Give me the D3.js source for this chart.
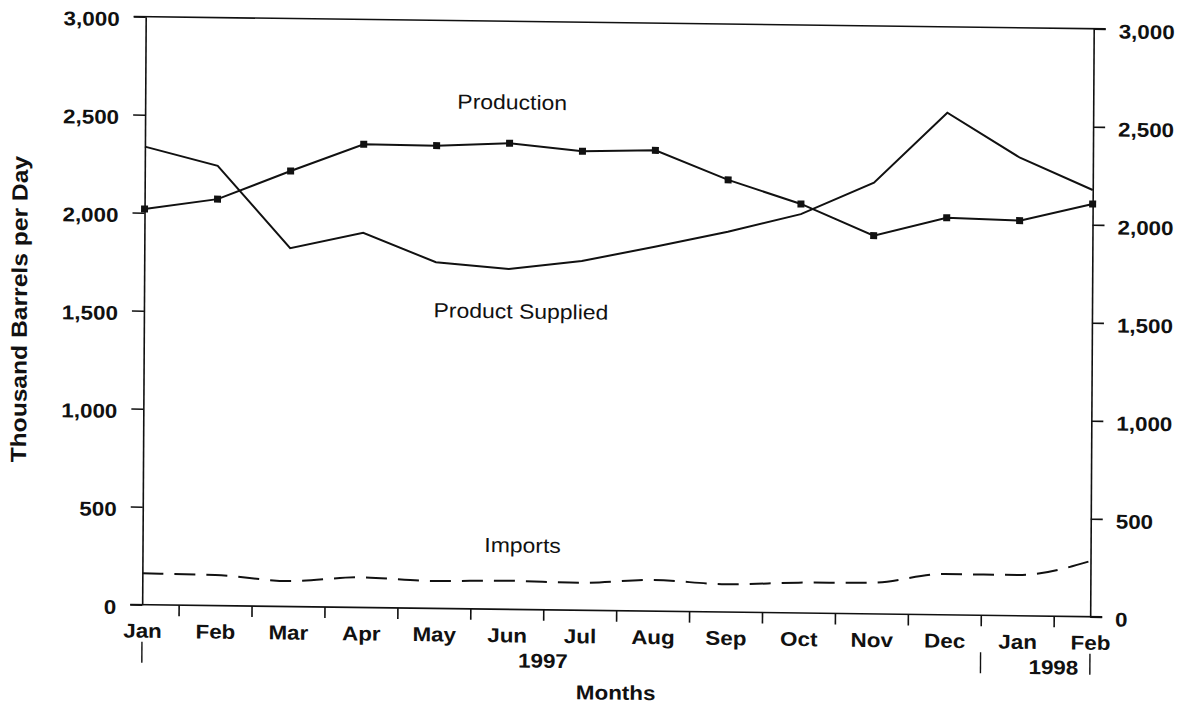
<!DOCTYPE html>
<html>
<head>
<meta charset="utf-8">
<script src="https://cdn.jsdelivr.net/npm/d3@7"></script>
<style>
  body { margin: 0; background: #fff; }
  text { font-family: "Liberation Sans", Arial, sans-serif; fill: #111; }
  .tick-label, .month, .year, .axis-title { font-weight: bold; font-size: 20px; }
  .y-title { font-weight: bold; font-size: 22px; }
  .series-label { font-size: 20.5px; }
</style>
</head>
<body>
<svg id="chart" width="1189" height="706"></svg>
<script>
// data (thousand barrels per day), Jan 1997 - Feb 1998
var months = ["Jan", "Feb", "Mar", "Apr", "May", "Jun", "Jul", "Aug", "Sep", "Oct", "Nov", "Dec", "Jan", "Feb"];
var production = [2019, 2074, 2222, 2363, 2361, 2378, 2342, 2351, 2205, 2087, 1930, 2026, 2016, 2106];
var productSupplied = [2337, 2244, 1828, 1912, 1766, 1736, 1782, 1859, 1941, 2035, 2200, 2562, 2337, 2177];
var imports = [160, 156, 130, 154, 140, 146, 140, 159, 142, 155, 159, 208, 208, 284];
var yTicks = [0, 500, 1000, 1500, 2000, 2500, 3000];
var years = [
  { label: "1997", first: 0, last: 11 },
  { label: "1998", first: 12, last: 13 }
];

// layout
var W = 948, H = 588,
  sx = 1.12, // the scanned lettering is a bit wider than Arial
  seriesLabels = [
    { text: "Production", x: 367, y: 88 },
    { text: "Product Supplied", x: 377, y: 297 },
    { text: "Imports", x: 380, y: 531 }
  ];

var svg = d3.select("#chart");
// the original is a slightly skewed scan, so the whole plot gets a small shear
var g = svg.append("g")
  .attr("transform", "matrix(1,0.01266,-0.006,1,145.7,16.7)");

var x = d3.scaleLinear().domain([0, months.length - 1]).range([0, W]);
var y = d3.scaleLinear().domain([0, 3000]).range([H, 0]);

function stretchText(sel, anchor, dy) {
  sel.each(function() {
    var t = d3.select(this);
    var tx = +t.attr("x") || 0, ty = +t.attr("y") || 0;
    t.attr("x", null).attr("y", null)
      .attr("transform", "translate(" + tx + "," + ty + ") scale(" + sx + ",1)")
      .attr("text-anchor", anchor)
      .attr("dy", dy);
  });
}

function styleAxis(sel) {
  sel.attr("font-family", null).attr("font-size", null);
  sel.selectAll("path, line").attr("stroke", "#111").attr("stroke-width", 1.6);
}

// left and right value axes
var gl = g.append("g")
  .call(d3.axisLeft(y).tickValues(yTicks).tickSize(12).tickSizeOuter(0)
    .tickPadding(14).tickFormat(d3.format(",")))
  .call(styleAxis);
gl.selectAll(".tick text").attr("class", "tick-label").call(stretchText, "end", "0.45em");

var gr = g.append("g").attr("transform", "translate(" + W + ",0)")
  .call(d3.axisRight(y).tickValues(yTicks).tickSize(12).tickSizeOuter(0)
    .tickPadding(13).tickFormat(d3.format(",")))
  .call(styleAxis);
gr.selectAll(".tick text").attr("class", "tick-label").call(stretchText, "start", "0.45em");

// top frame and baseline
g.selectAll("line.frame").data([0, H]).join("line")
  .attr("class", "frame")
  .attr("x1", -12).attr("x2", W + 12)
  .attr("y1", function(d) { return d; }).attr("y2", function(d) { return d; })
  .attr("stroke", "#111").attr("stroke-width", 1.6);

// month ticks sit between the months
var gb = g.append("g").attr("transform", "translate(0," + H + ")")
  .call(d3.axisBottom(x).tickValues(d3.range(0.5, months.length - 1, 1)).tickSize(11).tickFormat(""))
  .call(styleAxis);
gb.select(".domain").remove();

var gm = g.append("g").attr("transform", "translate(0," + H + ")")
  .call(d3.axisBottom(x).tickValues(d3.range(months.length)).tickSize(0).tickPadding(33)
    .tickFormat(function(i) { return months[i]; }))
  .call(styleAxis);
gm.select(".domain").remove();
gm.selectAll(".tick text").attr("class", "month").call(stretchText, "middle", "0");

// year brackets under the month labels
var bounds = [x(years[0].first)].concat(years.map(function(d, i) {
  return i < years.length - 1 ? (x(d.last) + x(years[i + 1].first)) / 2 : x(d.last);
}));
g.selectAll("line.year-sep").data(bounds).join("line")
  .attr("class", "year-sep")
  .attr("x1", function(d) { return d; }).attr("x2", function(d) { return d; })
  .attr("y1", H + 37).attr("y2", H + 58)
  .attr("stroke", "#111").attr("stroke-width", 1.4);

g.selectAll("text.year").data(years).join("text")
  .attr("class", "year")
  .attr("x", function(d) { return (x(d.first) + x(d.last)) / 2; })
  .attr("y", H + 58)
  .text(function(d) { return d.label; })
  .call(stretchText, "middle", "0");

// axis titles
g.append("text").attr("class", "axis-title")
  .attr("x", W / 2).attr("y", H + 89)
  .text("Months")
  .call(stretchText, "middle", "0");

g.append("text").attr("class", "y-title")
  .attr("transform", "translate(-117," + (H / 2) + ") rotate(-90) scale(" + sx + ",1)")
  .attr("text-anchor", "middle")
  .text("Thousand Barrels per Day");

// series
var line = d3.line().x(function(d, i) { return x(i); }).y(function(d) { return y(d); });

g.append("path").datum(productSupplied)
  .attr("d", line)
  .attr("fill", "none").attr("stroke", "#111").attr("stroke-width", 2);

g.append("path").datum(imports)
  .attr("d", line.curve(d3.curveMonotoneX))
  .attr("fill", "none").attr("stroke", "#111").attr("stroke-width", 2)
  .attr("stroke-dasharray", "21,11");
line.curve(d3.curveLinear);

g.append("path").datum(production)
  .attr("d", line)
  .attr("fill", "none").attr("stroke", "#111").attr("stroke-width", 2);

g.selectAll("rect.marker").data(production).join("rect")
  .attr("class", "marker")
  .attr("x", function(d, i) { return x(i) - 3.5; })
  .attr("y", function(d) { return y(d) - 3.5; })
  .attr("width", 7).attr("height", 7)
  .attr("fill", "#111");

g.selectAll("text.series-label").data(seriesLabels).join("text")
  .attr("class", "series-label")
  .attr("x", function(d) { return d.x; })
  .attr("y", function(d) { return d.y; })
  .text(function(d) { return d.text; })
  .call(stretchText, "middle", "0");
</script>
</body>
</html>
